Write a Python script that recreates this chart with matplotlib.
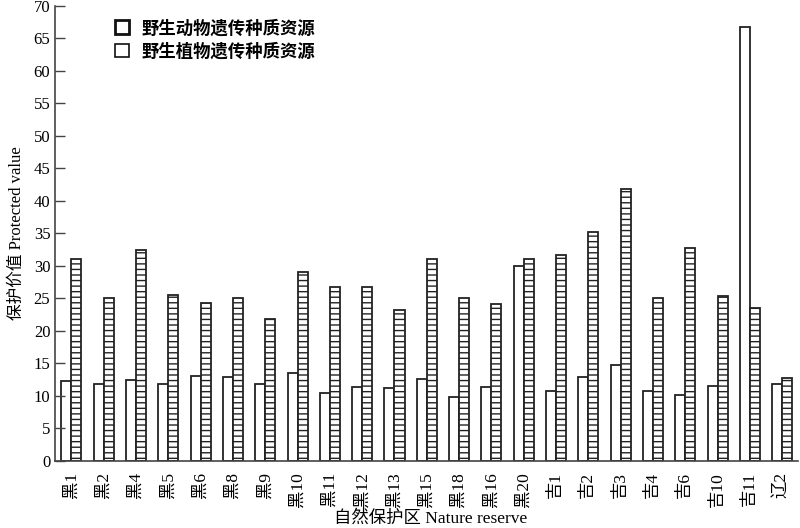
import matplotlib
matplotlib.use("Agg")
import matplotlib.pyplot as plt
import numpy as np
from matplotlib.patches import Patch

plt.rcParams['font.family'] = ['Liberation Serif', 'Noto Sans CJK SC']
plt.rcParams['hatch.linewidth'] = 1.0

categories = ['黑1', '黑2', '黑4', '黑5', '黑6', '黑8', '黑9', '黑10', '黑11', '黑12', '黑13', '黑15',
              '黑18', '黑16', '黑20', '吉1', '吉2', '吉3', '吉4', '吉6', '吉10', '吉11', '辽2']
animal = [12.3, 11.8, 12.4, 11.8, 13.0, 12.9, 11.8, 13.5, 10.4, 11.4, 11.2, 12.6,
          9.8, 11.4, 30.0, 10.8, 12.9, 14.7, 10.8, 10.2, 11.6, 66.8, 11.8]
plant = [31.0, 25.0, 32.4, 25.5, 24.3, 25.0, 21.8, 29.0, 26.8, 26.8, 23.2, 31.0,
         25.0, 24.2, 31.0, 31.6, 35.2, 41.8, 25.0, 32.7, 25.4, 23.5, 12.8]
series_names = ['野生动物遗传种质资源', '野生植物遗传种质资源']

fig = plt.figure(figsize=(8, 5.28), dpi=100)
ax = fig.add_axes([0.069, 0.127, 0.929, 0.862])

x = np.arange(len(categories))
w = 0.31
ax.bar(x - w/2, animal, width=w, facecolor='white', edgecolor='#222222', linewidth=1.3)
ax.bar(x + w/2, plant, width=w, facecolor='white', edgecolor='#222222', linewidth=1.3, hatch='---')

ax.set_xlim(-0.5, len(categories) - 0.5)
ax.set_ylim(0, 70)
ax.set_yticks(np.arange(0, 71, 5))
ax.set_xticks(x)
ax.set_xticklabels(categories, rotation=90, fontsize=12.5)
ax.tick_params(axis='y', direction='in', length=7, labelsize=12, width=1, color='#444444')
ax.tick_params(axis='x', length=0, pad=8)
for s in ['top', 'right']:
    ax.spines[s].set_visible(False)
for s in ['left', 'bottom']:
    ax.spines[s].set_color('#444444')
    ax.spines[s].set_linewidth(1.2)

ax.set_ylabel('保护价值 Protected value', fontsize=12, labelpad=6)
ax.set_xlabel('自然保护区 Nature reserve', fontsize=12.5)
ax.xaxis.set_label_coords(0.505, -0.109)

handles = [Patch(facecolor='white', edgecolor='#111111', linewidth=2.0),
           Patch(facecolor='white', edgecolor='#111111', linewidth=1.2, hatch='-')]
leg = ax.legend(handles, series_names, loc='upper left', bbox_to_anchor=(0.06, 1.005),
                frameon=False, prop={'family': ['Noto Sans CJK SC'], 'weight': 'bold', 'size': 12.5},
                handlelength=0.8, handleheight=0.8, handletextpad=0.7, labelspacing=0.3)

fig.savefig('out.png', dpi=100)
